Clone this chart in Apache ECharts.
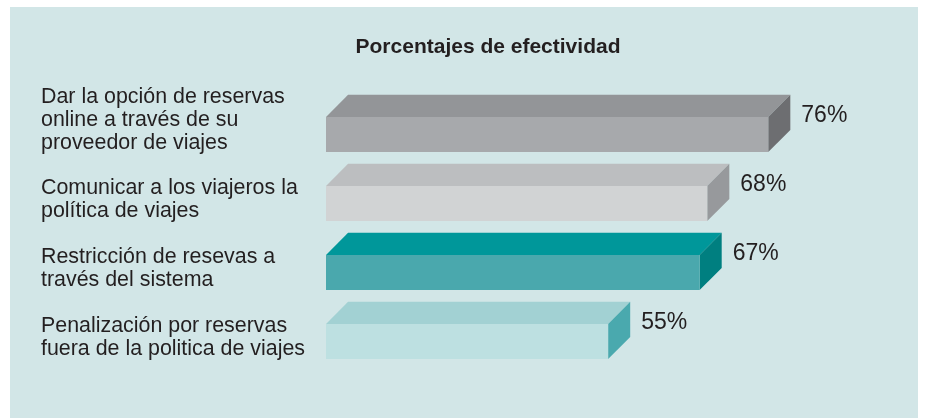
<!DOCTYPE html>
<html>
<head>
<meta charset="utf-8">
<script src="https://cdn.jsdelivr.net/npm/echarts@6/dist/echarts.min.js"></script>
<style>
  html, body { margin: 0; padding: 0; background: #ffffff; }
  #chart { width: 926px; height: 418px; }
</style>
</head>
<body>
<div id="chart"></div>
<script>
// Effectiveness of travel-policy measures (percent)
const categories = [
  'Dar la opción de reservas\nonline a través de su\nproveedor de viajes',
  'Comunicar a los viajeros la\npolítica de viajes',
  'Restricción de resevas a\ntravés del sistema',
  'Penalización por reservas\nfuera de la politica de viajes'
];
const values = [76, 68, 67, 55];
const valueLabels = ['76%', '68%', '67%', '55%'];

// Face colours of each 3D bar: front, top, side
const palette = [
  { front: '#a7a9ac', top: '#939598', side: '#6d6e71' },
  { front: '#d1d3d4', top: '#bcbec0', side: '#97999c' },
  { front: '#4aa8ad', top: '#00979a', side: '#007f80' },
  { front: '#bde0e1', top: '#a2d1d3', side: '#4aa9ae' }
];

const AXIS_MIN = 18;
const AXIS_MAX = 90;
const TEXT = '#231f20';
const FONT = '"Liberation Sans", Arial, Helvetica, sans-serif';

const chart = echarts.init(document.getElementById('chart'), null, { renderer: 'canvas' });

function renderBar(params, api) {
  const idx = params.dataIndex;
  const c = palette[idx];
  const end = api.coord([api.value(0), idx]);
  const start = api.coord([AXIS_MIN, idx]);
  const band = api.size([0, 1])[1];
  const h = band * 0.51;
  const d = band * 0.32;
  const x0 = start[0], x1 = end[0], cy = end[1];
  const yt = cy - h / 2, yb = cy + h / 2;
  const lines = categories[idx].split('\n').length;

  return {
    type: 'group',
    children: [
      {
        type: 'polygon',
        shape: { points: [[x0, yt], [x1, yt], [x1 + d, yt - d], [x0 + d, yt - d]] },
        style: { fill: c.top }
      },
      {
        type: 'polygon',
        shape: { points: [[x1, yt], [x1 + d, yt - d], [x1 + d, yb - d], [x1, yb]] },
        style: { fill: c.side }
      },
      {
        type: 'rect',
        shape: { x: x0, y: yt, width: x1 - x0, height: h },
        style: { fill: c.front }
      },
      {
        type: 'text',
        x: x1 + d + 11,
        y: cy - 19,
        style: {
          text: valueLabels[idx],
          fill: TEXT,
          font: '23px ' + FONT,
          verticalAlign: 'middle',
          align: 'left'
        }
      },
      {
        type: 'text',
        x: 41,
        y: cy - 3.5 - (lines - 2) * 11,
        style: {
          text: categories[idx],
          fill: TEXT,
          font: '21.4px ' + FONT,
          lineHeight: 23,
          verticalAlign: 'middle',
          align: 'left'
        }
      }
    ]
  };
}

chart.setOption({
  backgroundColor: '#ffffff',
  animation: false,
  graphic: [
    {
      type: 'rect',
      z: -10,
      shape: { x: 10, y: 7, width: 908, height: 420 },
      style: { fill: '#d2e6e7' }
    }
  ],
  title: {
    text: 'Porcentajes de efectividad',
    left: 483,
    top: 32,
    textAlign: 'center',
    textStyle: { fontFamily: FONT, fontSize: 21, fontWeight: 'bold', color: TEXT }
  },
  grid: { left: 326, right: 51, top: 100, bottom: 42 },
  xAxis: {
    type: 'value',
    min: AXIS_MIN,
    max: AXIS_MAX,
    show: false
  },
  yAxis: {
    type: 'category',
    data: categories,
    inverse: true,
    show: false
  },
  series: [{
    type: 'custom',
    renderItem: renderBar,
    data: values.map((v, i) => [v, i]),
    encode: { x: 0, y: 1 },
    clip: false
  }]
});
</script>
</body>
</html>
